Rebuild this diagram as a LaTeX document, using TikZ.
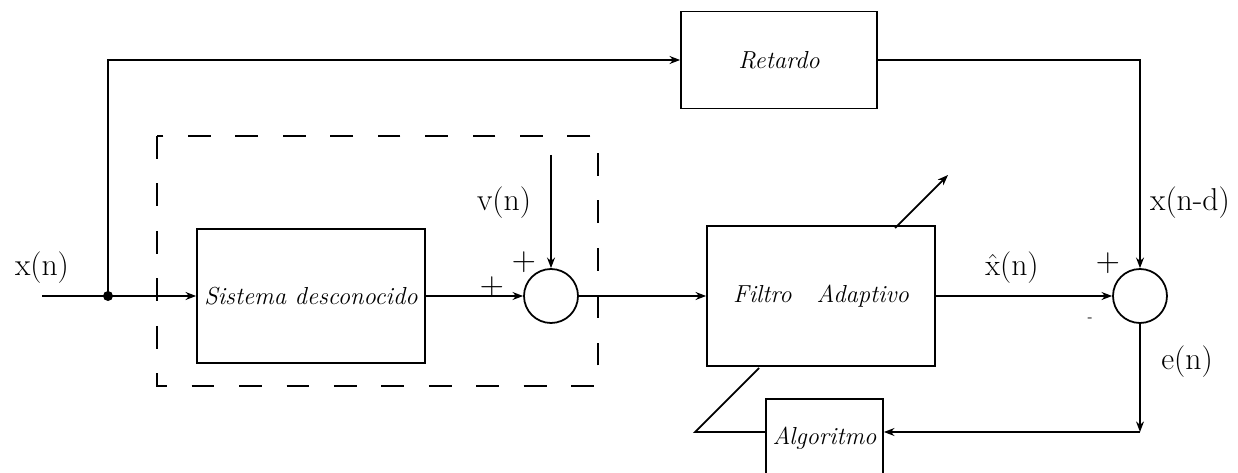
\documentclass[tikz,border=0pt]{standalone}
\usetikzlibrary{arrows.meta,calc}
\begin{document}
\begin{tikzpicture}[x=0.02cm,y=-0.02cm, line width=1pt,
  >={Stealth[length=6pt,width=4.5pt]},
  blk/.style={draw, rectangle, inner sep=0pt, font=\itshape\fontsize{14}{14}\selectfont},
  sum/.style={draw, circle, inner sep=0pt, minimum size=1.08cm},
  lbl/.style={font=\fontsize{18}{18}\selectfont, inner sep=0pt},
  sgn/.style={font=\fontsize{19}{19}\selectfont, inner sep=0pt}]
\useasboundingbox (0,0) rectangle (1238,473);

% dashed unknown-system frame
\draw[dash pattern=on 13pt off 14pt] (157,136) rectangle (598,386);

% blocks
\node[blk, minimum width=4.56cm, minimum height=2.68cm] (sis) at (311,296) {Sistema desconocido};
\node[blk, minimum width=3.92cm, minimum height=1.94cm] (ret) at (779,60) {Retardo};
\node[blk, minimum width=4.56cm, minimum height=2.8cm] (fil) at (821,296) {Filtro\hspace{0.5cm}Adaptivo};
\node[blk, minimum width=2.34cm, minimum height=1.58cm] (alg) at (824.5,438.5) {Algoritmo};

% summers
\node[sum] (s1) at (551,296) {};
\node[sum] (s2) at (1140,296) {};

% coordinates
\coordinate (in) at (42,296);
\coordinate (j) at (108,296);
\coordinate (vn) at (551,155);
\coordinate (cr) at (1140,432);
\coordinate (a0) at (695,432);
\coordinate (ab) at (759,368);
\coordinate (at) at (895,228);
\coordinate (a1) at (948,175);

% connectors
\draw (in) -- (j);
\fill (j) circle[radius=0.1cm];
\draw[->] (j) -- (sis.west);
\draw[->] (j) |- (ret.west);
\draw[->] (ret.east) -| (s2.north);
\draw[->] (sis.east) -- (s1.west);
\draw[->] (vn) -- (s1.north);
\draw[->] (s1.east) -- (fil.west);
\draw[->] (fil.east) -- (s2.west);
\draw[->] (s2.south) -- (cr);
\draw[->] (cr) -- (alg.east |- cr);

% adaptation arrow
\draw (alg.west |- a0) -- (a0) -- (ab);
\draw[->] (at) -- (a1);

% labels
\node[lbl] (lx) at (42,268) {x(n)};
\node[lbl] (lv) at (504,203) {v(n)};
\node[lbl] (lxh) at (1012,268) {$\hat{\mathrm{x}}$(n)};
\node[lbl] (lxd) at (1190,203) {x(n-d)};
\node[lbl] (le) at (1187,362) {e(n)};
\node[sgn] (p1) at (492,287) {+};
\node[sgn] (p2) at (524,262) {+};
\node[sgn] (p3) at (1108,263) {+};
\node[font=\fontsize{8}{8}\selectfont, inner sep=0pt] (m1) at (1090,320) {-};
\end{tikzpicture}
\end{document}
